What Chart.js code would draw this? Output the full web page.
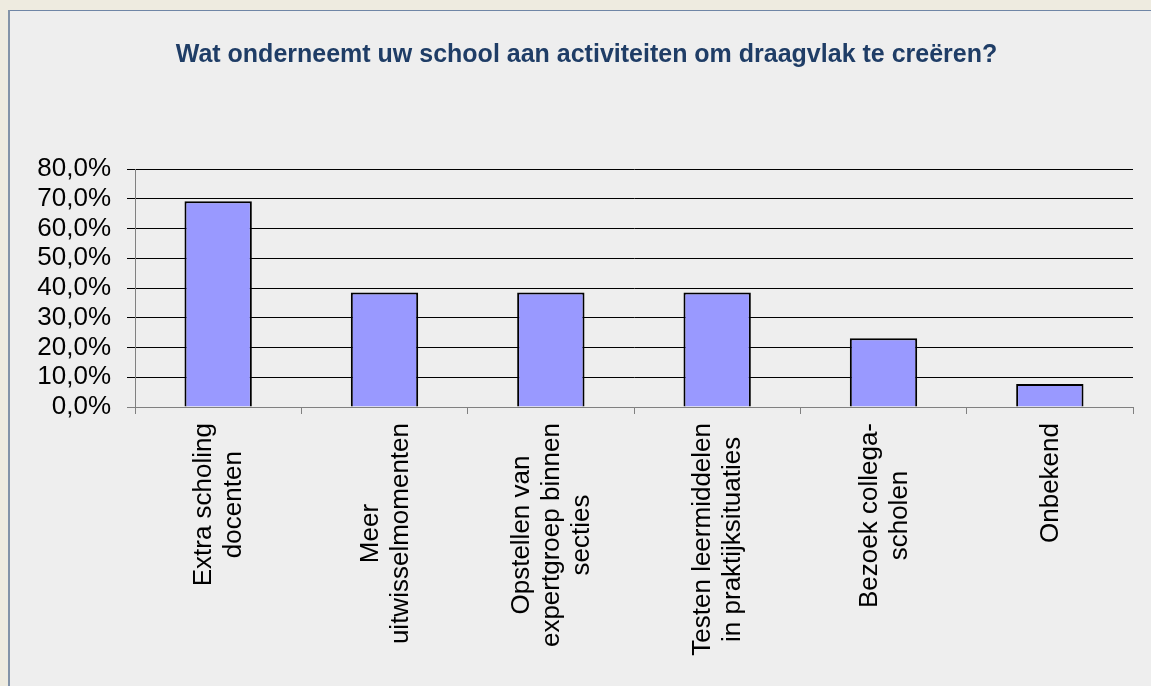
<!DOCTYPE html>
<html>
<head>
<meta charset="utf-8">
<script src="https://cdn.jsdelivr.net/npm/chart.js@4/dist/chart.umd.min.js"></script>
<style>
  html, body { margin: 0; padding: 0; background: #eeebe0; }
  canvas { display: block; }
</style>
</head>
<body>
<canvas id="c" width="1151" height="686"></canvas>
<script>
const chartTitle = 'Wat onderneemt uw school aan activiteiten om draagvlak te creëren?';
const categories = [
  ['Extra scholing', 'docenten'],
  ['Meer', 'uitwisselmomenten'],
  ['Opstellen van', 'expertgroep binnen', 'secties'],
  ['Testen leermiddelen', 'in praktijksituaties'],
  ['Bezoek collega-', 'scholen'],
  ['Onbekend']
];
const percentages = [69.2, 38.5, 38.5, 38.5, 23.1, 7.7];
const yTicks = [0, 10, 20, 30, 40, 50, 60, 70, 80];

const FONT = "'Liberation Sans', Arial, sans-serif";

const panelPlugin = {
  id: 'panel',
  beforeDraw(chart) {
    const ctx = chart.ctx;
    ctx.save();
    ctx.fillStyle = '#eeebe0';
    ctx.fillRect(0, 0, chart.width, chart.height);
    ctx.fillStyle = '#eeeeee';
    ctx.fillRect(8, 10, chart.width, chart.height);
    ctx.fillStyle = '#6f86a6';
    ctx.fillRect(8, 10, chart.width, 1);
    ctx.fillStyle = '#8393a8';
    ctx.fillRect(8, 10, 2, chart.height);
    ctx.font = 'bold 25px ' + FONT;
    ctx.fillStyle = '#1f3d66';
    ctx.textAlign = 'center';
    ctx.textBaseline = 'alphabetic';
    ctx.fillText(chartTitle, 586.5, 62);
    ctx.restore();
  }
};

const labelPlugin = {
  id: 'catLabels',
  afterDraw(chart) {
    const ctx = chart.ctx;
    const xs = chart.scales.x;
    const top = xs.top + 16;
    const lh = 30;
    ctx.save();
    ctx.font = '26px ' + FONT;
    ctx.fillStyle = '#000';
    ctx.textAlign = 'center';
    ctx.textBaseline = 'middle';
    categories.forEach((lines, i) => {
      const x = xs.getPixelForValue(i) + 1;
      const w = Math.max(...lines.map(l => ctx.measureText(l).width));
      ctx.save();
      ctx.translate(x, top);
      ctx.rotate(-Math.PI / 2);
      const n = lines.length;
      lines.forEach((l, j) => {
        ctx.fillText(l, -w / 2, (j - (n - 1) / 2) * lh);
      });
      ctx.restore();
    });
    ctx.restore();
  }
};

new Chart(document.getElementById('c'), {
  type: 'bar',
  data: {
    labels: categories,
    datasets: [{
      data: percentages,
      backgroundColor: '#9999ff',
      borderColor: '#000000',
      borderWidth: 2,
      barPercentage: 0.405,
      categoryPercentage: 1
    }]
  },
  options: {
    responsive: false,
    animation: false,
    events: [],
    layout: { padding: { left: 0, right: 18, top: 169, bottom: 0 } },
    plugins: {
      legend: { display: false },
      tooltip: { enabled: false },
      title: { display: false }
    },
    scales: {
      x: {
        grid: { display: true, drawOnChartArea: false, drawTicks: true, tickLength: 7, color: '#808080', offset: true },
        border: { display: true, color: '#808080', width: 1 },
        ticks: { display: false },
        afterFit(scale) { scale.height = 279; }
      },
      y: {
        min: 0,
        max: 80,
        afterBuildTicks(scale) { scale.ticks = yTicks.map(v => ({ value: v })); },
        grid: {
          color: (c) => (c.tick && c.tick.value === 0 ? '#808080' : '#000000'),
          tickLength: 8,
          drawTicks: true
        },
        border: { display: true, color: '#808080', width: 1 },
        ticks: {
          color: '#000000',
          padding: 16,
          autoSkip: false,
          font: { family: FONT, size: 26 },
          callback: (v) => v.toFixed(1).replace('.', ',') + '%'
        },
        afterFit(scale) { scale.width = 135; }
      }
    }
  },
  plugins: [panelPlugin, labelPlugin]
});
</script>
</body>
</html>
